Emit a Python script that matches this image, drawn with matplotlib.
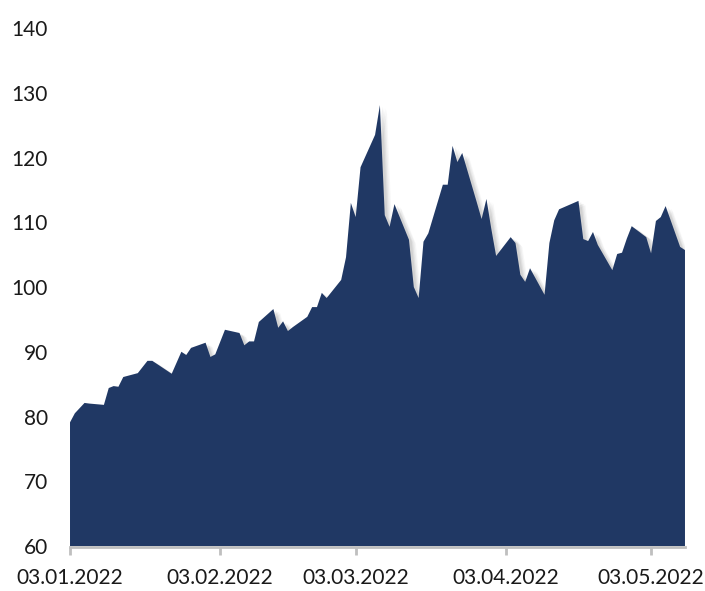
"""Index level, Jan-May 2022, area chart."""

import matplotlib

matplotlib.use("Agg")
import matplotlib.dates as mdates  # noqa: E402
import matplotlib.patheffects as pe  # noqa: E402
import matplotlib.pyplot as plt  # noqa: E402
import numpy as np  # noqa: E402

dates = [
    "2022-01-03", "2022-01-04", "2022-01-05", "2022-01-06", "2022-01-07",
    "2022-01-10", "2022-01-11", "2022-01-12", "2022-01-13", "2022-01-14",
    "2022-01-17", "2022-01-19", "2022-01-20", "2022-01-24", "2022-01-26",
    "2022-01-27", "2022-01-28", "2022-01-31", "2022-02-01", "2022-02-02",
    "2022-02-03", "2022-02-04", "2022-02-07", "2022-02-08", "2022-02-09",
    "2022-02-10", "2022-02-11", "2022-02-14", "2022-02-15", "2022-02-16",
    "2022-02-17", "2022-02-18", "2022-02-21", "2022-02-22", "2022-02-23",
    "2022-02-24", "2022-02-25", "2022-02-28", "2022-03-01", "2022-03-02",
    "2022-03-03", "2022-03-04", "2022-03-07", "2022-03-08", "2022-03-09",
    "2022-03-10", "2022-03-11", "2022-03-14", "2022-03-15", "2022-03-16",
    "2022-03-17", "2022-03-18", "2022-03-21", "2022-03-22", "2022-03-23",
    "2022-03-24", "2022-03-25", "2022-03-28", "2022-03-29", "2022-03-30",
    "2022-03-31", "2022-04-01", "2022-04-04", "2022-04-05", "2022-04-06",
    "2022-04-07", "2022-04-08", "2022-04-11", "2022-04-12", "2022-04-13",
    "2022-04-14", "2022-04-18", "2022-04-19", "2022-04-20", "2022-04-21",
    "2022-04-22", "2022-04-25", "2022-04-26", "2022-04-27", "2022-04-28",
    "2022-04-29", "2022-05-02", "2022-05-03", "2022-05-04", "2022-05-05",
    "2022-05-06", "2022-05-09", "2022-05-10",
]
values = [
    79.1, 80.5, 81.3, 82.1, 82.0,
    81.8, 84.4, 84.7, 84.6, 86.1,
    86.7, 88.6, 88.6, 86.6, 90.0,
    89.5, 90.6, 91.4, 89.2, 89.6,
    91.5, 93.4, 92.9, 91.0, 91.6,
    91.6, 94.6, 96.6, 93.7, 94.7,
    93.2, 93.8, 95.4, 96.9, 96.9,
    99.1, 98.3, 101.1, 104.6, 113.0,
    110.8, 118.5, 123.5, 128.1, 111.1,
    109.3, 112.8, 107.3, 100.0, 98.3,
    107.0, 108.3, 115.8, 115.8, 121.8,
    119.3, 120.7, 113.1, 110.5, 113.6,
    109.0, 104.8, 107.7, 106.8, 101.9,
    100.8, 102.9, 98.8, 106.8, 110.3,
    112.0, 113.3, 107.4, 107.1, 108.5,
    106.5, 102.6, 105.1, 105.3, 107.5,
    109.4, 107.7, 105.2, 110.2, 110.8,
    112.5, 106.2, 105.7,
]
tick_dates = ["2022-01-03", "2022-02-03", "2022-03-03", "2022-04-03", "2022-05-03"]
y_ticks = [60, 70, 80, 90, 100, 110, 120, 130, 140]

NAVY = "#203864"
GRID = "#BFBFBF"

plt.rcParams["font.family"] = ["Lato", "DejaVu Sans"]

x = np.array(dates, dtype="datetime64[D]")
y = np.array(values)

fig = plt.figure(figsize=(7.05, 5.91), dpi=100)
ax = fig.add_axes([0.0993, 0.0761, 0.8723, 0.8765])

# soft drop shadow: a few faint offset copies under the area
area = ax.fill_between(x, 60, y, color=NAVY, lw=0, zorder=3)
area.set_path_effects([
    pe.SimplePatchShadow(offset=(5, -3), shadow_rgbFace="#000000", alpha=0.03),
    pe.SimplePatchShadow(offset=(4, -2), shadow_rgbFace="#000000", alpha=0.04),
    pe.SimplePatchShadow(offset=(3, -2), shadow_rgbFace="#000000", alpha=0.05),
    pe.SimplePatchShadow(offset=(2, -1), shadow_rgbFace="#000000", alpha=0.06),
    pe.Normal(),
])

ax.set_xlim(x[0], x[-1])
ax.set_ylim(60, 140)
ax.set_yticks(y_ticks)
ax.set_yticklabels([str(v) for v in y_ticks])
ax.set_xticks(np.array(tick_dates, dtype="datetime64[D]"))
ax.xaxis.set_major_formatter(mdates.DateFormatter("%d.%m.%Y"))

for side in ("top", "right", "left"):
    ax.spines[side].set_visible(False)
ax.spines["bottom"].set_color(GRID)
ax.spines["bottom"].set_linewidth(2)
ax.spines["bottom"].set_position(("outward", 1))
ax.tick_params(axis="y", length=0, pad=16, labelsize=15, labelcolor="#1a1a1a")
ax.tick_params(axis="x", length=6, width=2, color=GRID, pad=9,
               labelsize=15, labelcolor="#1a1a1a")

fig.savefig("out.png", dpi=100)
plt.close(fig)
